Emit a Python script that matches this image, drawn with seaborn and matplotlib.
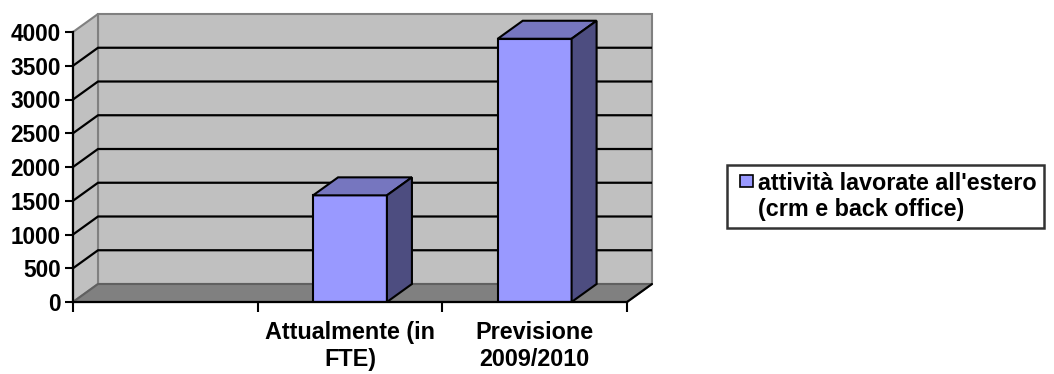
import numpy as np
import pandas as pd
import matplotlib
matplotlib.use("Agg")
import matplotlib.pyplot as plt
from matplotlib.patches import Polygon, Patch, Rectangle
from matplotlib.legend_handler import HandlerPatch
import seaborn as sns

# ---- data ----
categories = ["", "Attualmente (in\nFTE)", "Previsione\n2009/2010"]
values = [np.nan, 1580, 3900]
series_name = "attività lavorate all'estero"
series_name_2 = "(crm e back office)"
yticks = list(range(0, 4001, 500))

sns.set_theme(style="white")
plt.rcParams['font.family'] = ['Liberation Sans', 'DejaVu Sans']
plt.rcParams['font.weight'] = 'bold'
plt.rcParams['text.color'] = 'black'
plt.rcParams['xtick.color'] = 'black'
plt.rcParams['ytick.color'] = 'black'
plt.rcParams['xtick.labelcolor'] = 'black'
plt.rcParams['ytick.labelcolor'] = 'black'

FS_Y = 16.3
FS_X = 16.8
FS_L = 16.8
fig = plt.figure(figsize=(10.54, 3.74), dpi=100)
W, H = 1054, 374
ax = fig.add_axes([73 / W, 72 / H, (652 - 73) / W, (302 - 14) / H])

# 3D depth offsets (styling)
dx = 25 / 184.67
dy = 18 / 0.0675
ymax = yticks[-1]
x0, x1 = -0.5, len(categories) - 0.5

wall_c = "#C0C0C0"
edge_c = "#808080"
# back wall
ax.add_patch(Polygon([(x0 + dx, dy), (x1 + dx, dy), (x1 + dx, ymax + dy), (x0 + dx, ymax + dy)],
                     closed=True, facecolor=wall_c, edgecolor=edge_c, lw=1.5, zorder=0, clip_on=False))
# left side wall
ax.add_patch(Polygon([(x0, 0), (x0 + dx, dy), (x0 + dx, ymax + dy), (x0, ymax)],
                     closed=True, facecolor=wall_c, edgecolor=edge_c, lw=1.5, zorder=0, clip_on=False))
# floor
ax.add_patch(Polygon([(x0, 0), (x1, 0), (x1 + dx, dy), (x0 + dx, dy)],
                     closed=True, facecolor="#808080", edgecolor="#606060", lw=1.5, zorder=0.6, clip_on=False))
ax.plot([x1, x1 + dx], [0, dy], color="black", lw=1.5, zorder=0.7, clip_on=False)
# gridlines
for v in yticks[1:-1]:
    ax.plot([x0, x0 + dx, x1 + dx], [v, v + dy, v + dy], color="black", lw=1.6, zorder=0.5,
            solid_capstyle="butt", clip_on=False)

df = pd.DataFrame({"cat": categories, "val": values})
sns.barplot(data=df, x="cat", y="val", order=categories, width=0.4, color="#9999FF",
            saturation=1, edgecolor="black", linewidth=1.5, ax=ax, zorder=2)

bars = [p for p in ax.patches if p.__class__.__name__ == "Rectangle"]
for p in bars:
    bx, bw, bh = p.get_x(), p.get_width(), p.get_height()
    if not np.isfinite(bh) or bh <= 0:
        continue
    top = Polygon([(bx, bh), (bx + bw, bh), (bx + bw + dx, bh + dy), (bx + dx, bh + dy)],
                  closed=True, facecolor="#7676BF", edgecolor="black", lw=1.5, zorder=2.1)
    side = Polygon([(bx + bw, 0), (bx + bw + dx, dy), (bx + bw + dx, bh + dy), (bx + bw, bh)],
                   closed=True, facecolor="#4D4D80", edgecolor="black", lw=1.5, zorder=2.1)
    ax.add_patch(top)
    ax.add_patch(side)

ax.set_xlim(x0, x1 + dx)
ax.set_ylim(0, ymax + dy)
ax.patch.set_visible(False)

# axes
for s in ["top", "right"]:
    ax.spines[s].set_visible(False)
ax.spines["left"].set_bounds(0, ymax)
ax.spines["bottom"].set_bounds(x0, x1)
for s in ["left", "bottom"]:
    ax.spines[s].set_color("black")
    ax.spines[s].set_linewidth(1.6)
    ax.spines[s].set_zorder(3)

ax.set_yticks(yticks)
ax.set_yticklabels([str(v) for v in yticks], fontsize=FS_Y, fontweight="bold", color="black")
ax.set_xticks(range(len(categories)))
ax.set_xticklabels(categories, fontsize=FS_X, fontweight="bold", linespacing=1.22, color="black")
ax.set_xticks(np.arange(len(categories) + 1) - 0.5, minor=True)
ax.tick_params(axis="y", direction="out", length=6, width=1.5, color="black", pad=3, left=True)
ax.tick_params(axis="x", which="major", length=0, pad=14, bottom=True)
ax.tick_params(axis="x", which="minor", direction="out", length=7, width=1.5, color="black", bottom=True)
ax.set_xlabel("")
ax.set_ylabel("")


# legend: small square handle on the right side of the handle box
def square_patch(legend, orig_handle, xdescent, ydescent, width, height, fontsize):
    s = 9.0  # points
    return Rectangle((-xdescent + width - s, -ydescent + (height - s) / 2 + 0.5), s, s)


handles = [Patch(facecolor="#9999FF", edgecolor="black", lw=1.2),
           Patch(facecolor="none", edgecolor="none")]
leg = fig.legend(handles, [series_name, series_name_2], loc="upper left",
                 bbox_to_anchor=(727 / W, 1 - 165 / H), frameon=True, fancybox=False,
                 prop={"size": FS_L, "weight": "bold"}, handlelength=0.8, handleheight=0.7,
                 handletextpad=0.25, labelspacing=0.12, borderpad=0.3, borderaxespad=0,
                 handler_map={Patch: HandlerPatch(patch_func=square_patch)})
leg.get_frame().set_edgecolor("black")
leg.get_frame().set_linewidth(1.8)
for t in leg.get_texts():
    t.set_color("black")

fig.savefig("out.png", dpi=100, facecolor="white")
